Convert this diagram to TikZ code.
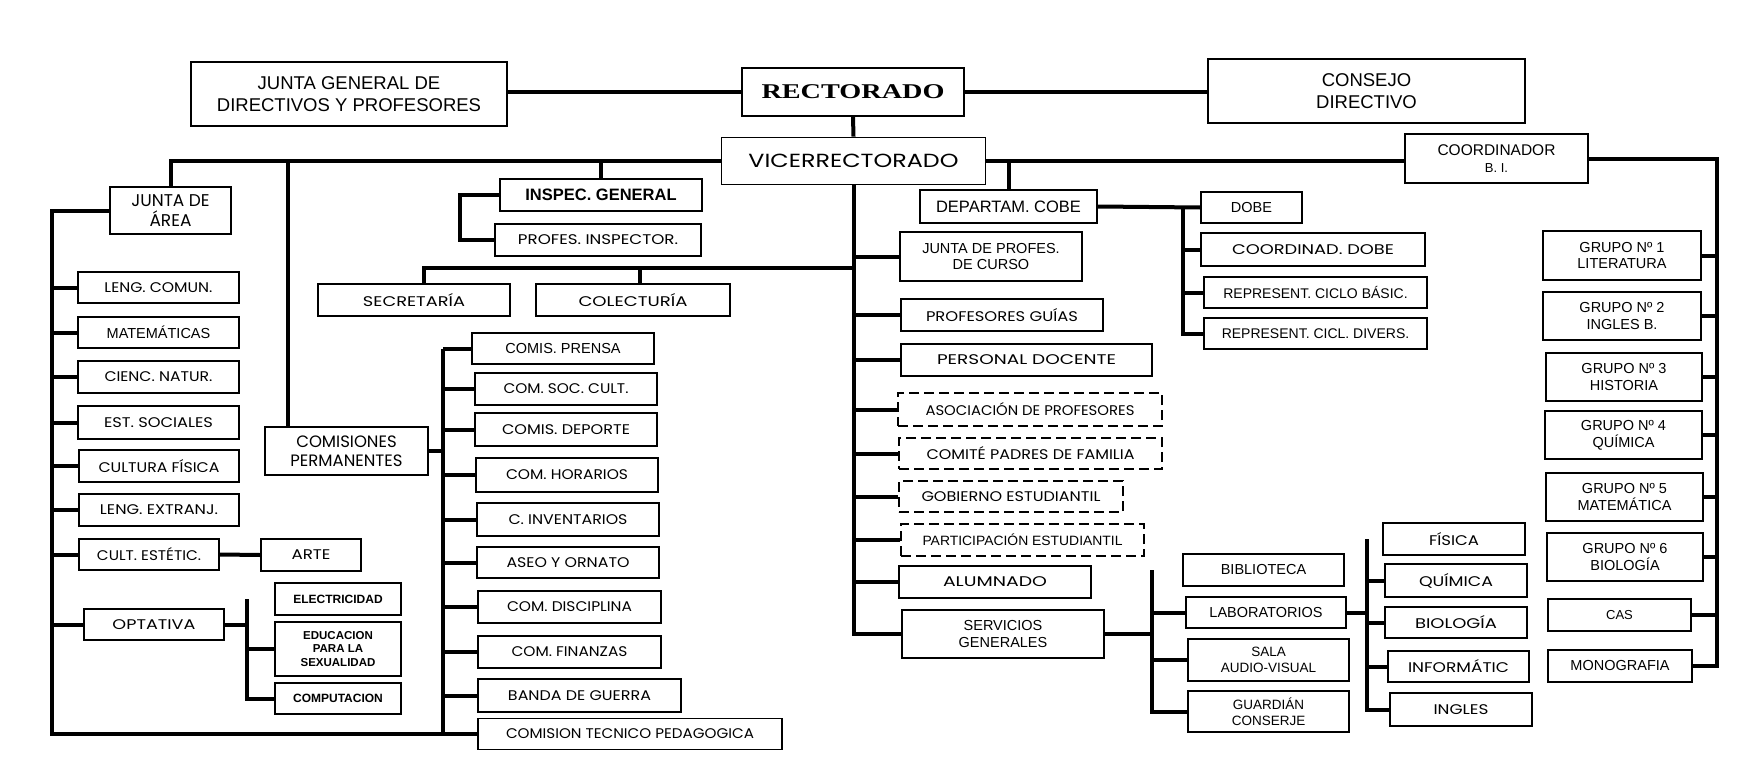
\documentclass[tikz,border=0pt]{standalone}
\usepackage{fontspec}
\usepackage{graphicx}
\setmainfont{Liberation Sans}
\newfontfamily\gothic{Poppins}
\newfontfamily\rectfont{Liberation Serif}
\newcommand\fsz[1]{\fontsize{#1}{\fpeval{1.15*#1}}\selectfont}
\newcommand\wide[2]{\resizebox{#1pt}{\height}{#2}}
\tikzset{
  box/.style={draw, line width=1.8pt, inner sep=1pt, align=center, font=\fsz{14.5}},
  gbox/.style={box, font=\gothic\fsz{14}},
  dbox/.style={gbox, dash pattern=on 10pt off 5pt},
  link/.style={line width=4pt},
}
\begin{document}
\begin{tikzpicture}[x=1pt, y=-1pt, line join=miter]
\useasboundingbox (0,0) rectangle (1749,779);
% cabeza
\node[box, minimum width=316, minimum height=64, font=\fsz{18.5}] (jgen) at (349,94) {JUNTA GENERAL DE\\DIRECTIVOS Y PROFESORES};
\node[box, minimum width=222, minimum height=48] (rect) at (853,92) {\rectfont\bfseries\fontsize{21}{24}\selectfont\wide{183}{RECTORADO}};
\node[box, minimum width=317, minimum height=64, font=\fsz{18.5}] (cons) at (1366.5,91) {CONSEJO\\DIRECTIVO};
\node[gbox, minimum width=264, minimum height=47, font=\gothic\fsz{19}] (vice) at (853.5,161) {\wide{210}{VICERRECTORADO}};
\node[box, minimum width=183, minimum height=49, font=\fsz{15.5}] (coord) at (1496.5,158.5) {COORDINADOR\\{\fsz{13}B. I.}};
\draw[link] (rect.west) -- (rect.west -| jgen.east);
\draw[link] (rect.east) -- (rect.east -| cons.west);
\draw[link] (rect.south) -- (vice.north);
% ramas del vicerrectorado
\node[gbox, minimum width=121, minimum height=47, font=\gothic\fsz{17}] (jarea) at (170.5,210.5) {JUNTA DE\\ÁREA};
\node[box, minimum width=202, minimum height=32, font=\bfseries\fsz{16.5}] (insp) at (601,195) {INSPEC. GENERAL};
\node[gbox, minimum width=206, minimum height=32] (pinsp) at (598,240) {\wide{160}{PROFES. INSPECTOR.}};
\node[gbox, minimum width=192, minimum height=32] (sec) at (414,300) {\wide{102}{SECRETARÍA}};
\node[gbox, minimum width=194, minimum height=32] (col) at (633,300) {\wide{109}{COLECTURÍA}};
\node[box, minimum width=177, minimum height=33, font=\fsz{16.5}] (cobe) at (1008.5,206.5) {DEPARTAM. COBE};
\node[gbox, minimum width=163, minimum height=48, font=\gothic\fsz{16.5}] (comp) at (346.5,451) {COMISIONES\\PERMANENTES};
\draw[link] (vice.west) -| (jarea.north);
\draw[link] (vice.west) -| ([xshift=24]comp.north west);
\draw[link] (vice.west) -| (insp.north);
\draw[link] (vice.east) -| (cobe.north);
\draw[link] (vice.east) -- (vice.east -| coord.west);
\draw[link] (insp.west) -- ++(-39,0) |- (pinsp.west);
\coordinate (sbar) at (853.5,268);
\draw[link] ([xshift=10]sec.north) |- (sbar);
\draw[link] ([xshift=7]col.north) -- ([xshift=7]col.north |- sbar);
% dobe
\node[box, minimum width=101, minimum height=31] (dobe) at (1251.5,207.5) {DOBE};
\node[gbox, minimum width=224, minimum height=33] (cdobe) at (1313,249.5) {\wide{162}{COORDINAD. DOBE}};
\node[box, minimum width=223, minimum height=31, font=\fsz{14}] (rbas) at (1315.5,292.5) {REPRESENT. CICLO BÁSIC.};
\node[box, minimum width=223, minimum height=31, font=\fsz{14}] (rdiv) at (1315.5,333.5) {REPRESENT. CICL. DIVERS.};
\coordinate (cbar) at (1183,0);
\draw[link] (cobe.east) -- (dobe.west);
\draw[link] (cbar |- dobe.west) |- (rdiv.west);
\foreach \n in {cdobe, rbas} \draw[link] (\n.west) -- (\n.west -| cbar);
% bachillerato internacional
\node[box, minimum width=158, minimum height=49] (g1) at (1622,255.5) {GRUPO Nº 1\\LITERATURA};
\node[box, minimum width=158, minimum height=48] (g2) at (1622,316) {GRUPO Nº 2\\INGLES B.};
\node[box, minimum width=156, minimum height=48] (g3) at (1624,377) {GRUPO Nº 3\\HISTORIA};
\node[box, minimum width=157, minimum height=48] (g4) at (1623.5,435) {GRUPO Nº 4\\QUÍMICA};
\node[box, minimum width=157, minimum height=48] (g5) at (1624.5,497) {GRUPO Nº 5\\MATEMÁTICA};
\node[box, minimum width=156, minimum height=48] (g6) at (1625,557) {GRUPO Nº 6\\BIOLOGÍA};
\node[box, minimum width=143, minimum height=32, font=\fsz{13}] (cas) at (1619.5,615) {CAS};
\node[box, minimum width=144, minimum height=32] (mono) at (1620,666) {MONOGRAFIA};
\coordinate (bibar) at (1717,0);
\draw[link] (coord.east) -| (bibar |- mono.east) -- (mono.east);
\foreach \n in {g1,g2,g3,g4,g5,g6,cas} \draw[link] (\n.east) -- (\n.east -| bibar);
% linea central
\node[box, minimum width=182, minimum height=49] (jprof) at (991,256.5) {JUNTA DE PROFES.\\DE CURSO};
\node[gbox, minimum width=202, minimum height=32] (pguias) at (1002,315) {\wide{152}{PROFESORES GUÍAS}};
\node[gbox, minimum width=251, minimum height=32] (pdoc) at (1026.5,360) {\wide{179}{PERSONAL DOCENTE}};
\node[dbox, minimum width=264, minimum height=33] (asoc) at (1030,409.5) {\wide{209}{ASOCIACIÓN DE PROFESORES}};
\node[dbox, minimum width=263, minimum height=31] (comite) at (1030.5,453.5) {\wide{208}{COMITÉ PADRES DE FAMILIA}};
\node[dbox, minimum width=224, minimum height=31] (gob) at (1011,496.5) {\wide{179}{GOBIERNO ESTUDIANTIL}};
\node[dbox, minimum width=243, minimum height=32, font=\fsz{13.5}] (part) at (1022.5,540) {\wide{200}{PARTICIPACIÓN ESTUDIANTIL}};
\node[gbox, minimum width=192, minimum height=32] (alum) at (995,582) {\wide{104}{ALUMNADO}};
\node[box, minimum width=202, minimum height=48] (serv) at (1003,634) {SERVICIOS\\GENERALES};
\draw[link] (vice.south) |- (serv.west);
\foreach \n in {jprof, pguias, pdoc, asoc, comite, gob, part, alum} \draw[link] (\n.west) -- (\n.west -| vice.south);
% servicios generales
\node[box, minimum width=161, minimum height=32] (bib) at (1263.5,570) {BIBLIOTECA};
\node[box, minimum width=160, minimum height=31] (lab) at (1266,612.5) {LABORATORIOS};
\node[box, minimum width=161, minimum height=42, font=\fsz{13.5}] (sala) at (1268.5,660) {SALA\\AUDIO-VISUAL};
\node[box, minimum width=161, minimum height=41, font=\fsz{13.5}] (guard) at (1268.5,711.5) {GUARDIÁN\\CONSERJE};
\coordinate (svbar) at (1152,0);
\draw[link] (serv.east) -- (serv.east -| svbar);
\draw[link] (svbar |- bib.west) |- (guard.west);
\foreach \n in {lab, sala} \draw[link] (\n.west) -- (\n.west -| svbar);
% laboratorios
\node[gbox, minimum width=142, minimum height=32] (fis) at (1454,539) {\wide{50}{FÍSICA}};
\node[gbox, minimum width=142, minimum height=33] (qui) at (1456,580.5) {\wide{74}{QUÍMICA}};
\node[gbox, minimum width=142, minimum height=31] (bio) at (1456,622.5) {\wide{82}{BIOLOGÍA}};
\node[gbox, minimum width=141, minimum height=31] (inf) at (1458.5,666.5) {\wide{101}{INFORMÁTIC}};
\node[gbox, minimum width=142, minimum height=33] (ing) at (1461,709.5) {\wide{55}{INGLES}};
\coordinate (lbar) at (1367,0);
\draw[link] (lab.east) -- (lab.east -| lbar);
\draw[link] (lbar |- fis.west) |- (ing.west);
\foreach \n in {qui, bio, inf} \draw[link] (\n.west) -- (\n.west -| lbar);
% junta de area
\node[gbox, minimum width=161, minimum height=31] (lcom) at (158.5,287.5) {\wide{108}{LENG. COMUN.}};
\node[box, minimum width=161, minimum height=31] (mat) at (158.5,332.5) {MATEMÁTICAS};
\node[gbox, minimum width=161, minimum height=32] (cnat) at (158.5,377) {\wide{108}{CIENC. NATUR.}};
\node[gbox, minimum width=161, minimum height=33] (esoc) at (158.5,422.5) {\wide{109}{EST. SOCIALES}};
\node[gbox, minimum width=160, minimum height=32] (cfis) at (159,466) {\wide{121}{CULTURA FÍSICA}};
\node[gbox, minimum width=160, minimum height=32] (lext) at (159,510) {\wide{118}{LENG. EXTRANJ.}};
\node[gbox, minimum width=140, minimum height=31] (cest) at (149,554.5) {\wide{104}{CULT. ESTÉTIC.}};
\node[gbox, minimum width=100, minimum height=32] (arte) at (311,555) {\wide{39}{ARTE}};
\node[gbox, minimum width=140, minimum height=31] (opt) at (154,624.5) {\wide{83}{OPTATIVA}};
\node[box, minimum width=126, minimum height=32, font=\bfseries\fsz{12}] (elec) at (338,599) {ELECTRICIDAD};
\node[box, minimum width=126, minimum height=54, font=\bfseries\fsz{11.5}] (edu) at (338,649) {EDUCACION\\PARA LA\\SEXUALIDAD};
\node[box, minimum width=126, minimum height=31, font=\bfseries\fsz{12}] (compu) at (338,698.5) {COMPUTACION};
\node[gbox, minimum width=304, minimum height=31] (ctp) at (630,734) {\wide{248}{COMISION TECNICO PEDAGOGICA}};
\coordinate (abar) at (52,0);
\draw[link] (jarea.west) -| (abar |- ctp.west) -- (ctp.west);
\foreach \n in {lcom, mat, cnat, esoc, cfis, lext, cest, opt} \draw[link] (\n.west) -- (\n.west -| abar);
\draw[link] (cest.east) -- (arte.west);
\coordinate (obar) at (247,0);
\draw[link] (opt.east) -- (opt.east -| obar);
\draw[link] (obar |- elec.west) |- (compu.west);
\draw[link] (edu.west) -- (edu.west -| obar);
% comisiones
\node[box, minimum width=182, minimum height=31] (prensa) at (563,348.5) {COMIS. PRENSA};
\node[gbox, minimum width=182, minimum height=32] (soc) at (566,389) {\wide{125}{COM. SOC. CULT.}};
\node[gbox, minimum width=182, minimum height=33] (dep) at (566,429.5) {\wide{128}{COMIS. DEPORTE}};
\node[gbox, minimum width=182, minimum height=34] (hor) at (567,475) {\wide{122}{COM. HORARIOS}};
\node[gbox, minimum width=182, minimum height=33] (inv) at (568,519.5) {\wide{119}{C. INVENTARIOS}};
\node[gbox, minimum width=182, minimum height=31] (aseo) at (568,562.5) {\wide{123}{ASEO Y ORNATO}};
\node[gbox, minimum width=183, minimum height=32] (disc) at (569.5,607) {\wide{125}{COM. DISCIPLINA}};
\node[gbox, minimum width=183, minimum height=32] (fin) at (569.5,652) {\wide{116}{COM. FINANZAS}};
\node[gbox, minimum width=203, minimum height=33] (banda) at (579.5,695.5) {\wide{143}{BANDA DE GUERRA}};
\coordinate (cbar2) at (443,0);
\draw[link] (comp.east) -- (comp.east -| cbar2);
\draw[link] (cbar2 |- prensa.west) -- (cbar2 |- ctp.west);
\foreach \n in {prensa, soc, dep, hor, inv, aseo, disc, fin, banda} \draw[link] (\n.west) -- (\n.west -| cbar2);
\end{tikzpicture}
\end{document}
